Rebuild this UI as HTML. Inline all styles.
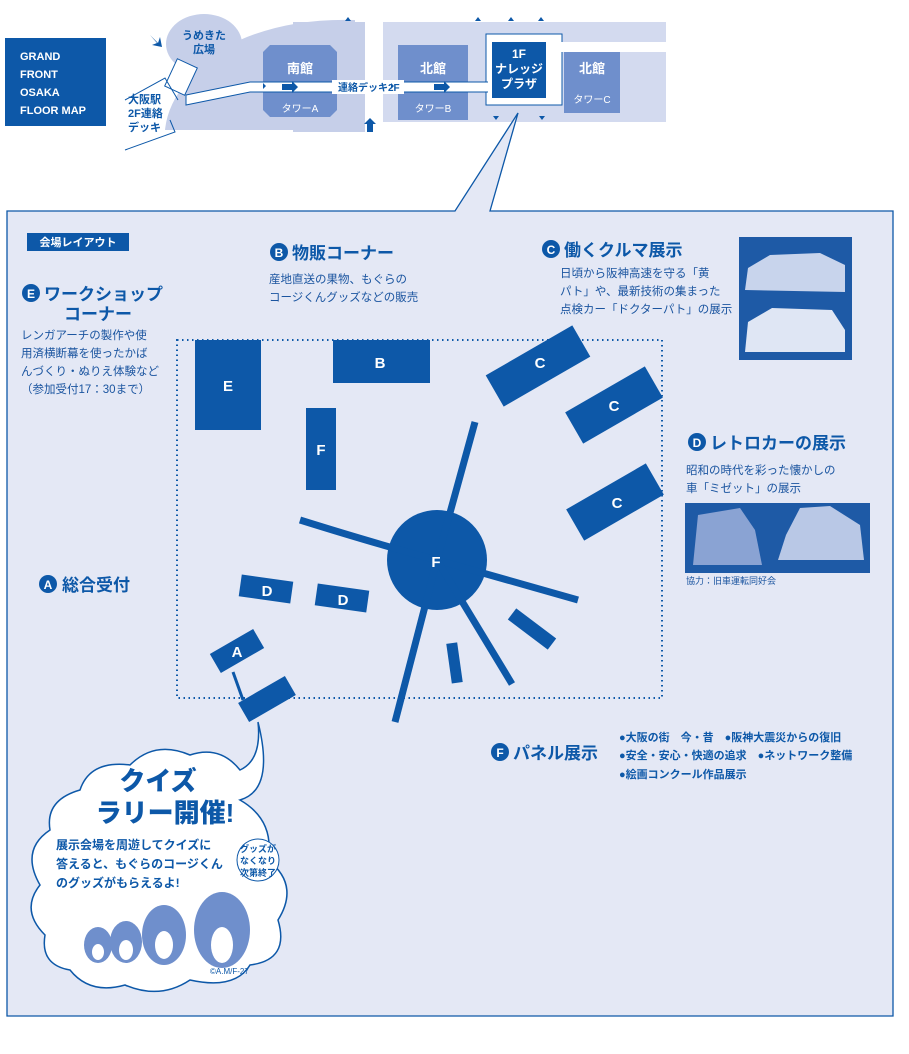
<!DOCTYPE html>
<html><head><meta charset="utf-8"><style>
html,body{margin:0;padding:0;background:#fff}
svg{display:block}
text{font-family:"Liberation Sans","Noto Sans CJK JP",sans-serif}
</style></head><body>
<svg width="909" height="1054" viewBox="0 0 909 1054" xmlns="http://www.w3.org/2000/svg">
<!-- top map -->
<rect x="5" y="38" width="101" height="88" fill="#0d58a8"/>
<g fill="#fff" font-size="11" font-weight="bold">
<text x="20" y="60">GRAND</text><text x="20" y="78">FRONT</text><text x="20" y="96">OSAKA</text><text x="20" y="114">FLOOR MAP</text></g>
<ellipse cx="204" cy="44" rx="38" ry="30" fill="#c6cfe9"/>
<text x="204" y="39" font-size="11" fill="#0d58a8" text-anchor="middle" font-weight="bold">うめきた</text>
<text x="204" y="53" font-size="11" fill="#0d58a8" text-anchor="middle" font-weight="bold">広場</text>
<path d="M165 130 Q170 80 240 40 Q290 18 355 20 L355 110 L360 130 Z" fill="#c6cfe9"/>
<rect x="293" y="22" width="72" height="110" fill="#c6cfe9"/>
<rect x="383" y="22" width="283" height="100" fill="#d3daef"/>
<path d="M270 45 L330 45 L337 52 L337 110 L330 117 L270 117 L263 110 L263 52 Z" fill="#6f8fcc"/>
<rect x="398" y="45" width="70" height="75" fill="#6f8fcc"/>
<rect x="564" y="50" width="56" height="63" fill="#6f8fcc"/>
<rect x="486" y="34" width="76" height="71" fill="#fff" stroke="#0d58a8" stroke-width="1"/>
<path d="M492 42 L546 42 L546 98 L492 98 Z" fill="#0d58a8"/>
<text x="519" y="58" fill="#fff" font-size="12" text-anchor="middle" font-weight="bold">1F</text>
<text x="519" y="73" fill="#fff" font-size="12" text-anchor="middle" font-weight="bold">ナレッジ</text>
<text x="519" y="88" fill="#fff" font-size="12" text-anchor="middle" font-weight="bold">プラザ</text>
<rect x="555" y="42" width="111" height="10" fill="#fff"/>
<path d="M186 95 L250 82 L372 82 L372 92 L250 92 L186 105 Z" fill="#fff" stroke="#0d58a8" stroke-width="1"/>
<rect x="372" y="82" width="116" height="10" fill="#fff"/>
<line x1="250" y1="82" x2="488" y2="82" stroke="#0d58a8"/><line x1="250" y1="92" x2="488" y2="92" stroke="#0d58a8"/>
<rect x="332" y="80" width="72" height="14" fill="#fff"/>
<text x="338" y="91" font-size="10" fill="#0d58a8" font-weight="bold">連絡デッキ2F</text>
<rect x="170" y="62" width="22" height="30" fill="#fff" stroke="#0d58a8" transform="rotate(25 181 77)"/>
<polyline points="125,100 165,78 178,100" fill="none" stroke="#0d58a8"/>
<polyline points="125,150 175,132 170,120" fill="none" stroke="#0d58a8"/>
<text x="128" y="103" font-size="11" fill="#0d58a8" font-weight="bold">大阪駅</text>
<text x="128" y="117" font-size="11" fill="#0d58a8" font-weight="bold">2F連絡</text>
<text x="128" y="131" font-size="11" fill="#0d58a8" font-weight="bold">デッキ</text>
<text x="300" y="73" font-size="13" fill="#fff" text-anchor="middle" font-weight="bold">南館</text>
<text x="300" y="112" font-size="10" fill="#fff" text-anchor="middle">タワーA</text>
<text x="433" y="73" font-size="13" fill="#fff" text-anchor="middle" font-weight="bold">北館</text>
<text x="433" y="112" font-size="10" fill="#fff" text-anchor="middle">タワーB</text>
<text x="592" y="73" font-size="13" fill="#fff" text-anchor="middle" font-weight="bold">北館</text>
<text x="592" y="103" font-size="10" fill="#fff" text-anchor="middle">タワーC</text>
<g fill="#0d58a8">
<path d="M282 84 L292 84 L292 81 L298 87 L292 93 L292 90 L282 90Z"/>
<path d="M434 84 L444 84 L444 81 L450 87 L444 93 L444 90 L434 90Z"/>
<path d="M367 132 L367 124 L364 124 L370 118 L376 124 L373 124 L373 132Z"/>
<path d="M150 35 L158 43 L160 37 L162 47 L152 45 L157 43Z"/>
<path d="M266 86 l-3 -3 v6z M394 86 l-3 -3 v6z M348 17 l-3 4 h6z M478 17 l-3 4 h6z M511 17 l-3 4 h6z M541 17 l-3 4 h6z M496 120 l-3 -4 h6z M542 120 l-3 -4 h6z"/>
</g>
<!-- callout -->
<path d="M7 211 L455 211 L518 113 L490 211 L893 211 L893 1016 L7 1016 Z" fill="#e4e8f5" stroke="#0d58a8" stroke-width="1.3"/>
<rect x="27" y="233" width="102" height="18" fill="#0d58a8"/>
<text x="78" y="246" fill="#fff" font-size="11" text-anchor="middle" font-weight="bold">会場レイアウト</text>
<rect x="177" y="340" width="485" height="358" fill="none" stroke="#0d58a8" stroke-width="2" stroke-dasharray="1.5 3.5"/>
<g fill="#0d58a8">
<rect x="195" y="340" width="66" height="90"/>
<rect x="333" y="340" width="97" height="43"/>
<rect x="306" y="408" width="30" height="82"/>
<rect x="-50" y="-18" width="100" height="36" transform="translate(538 366) rotate(-30)"/>
<rect x="-46" y="-18" width="92" height="36" transform="translate(614 405) rotate(-30)"/>
<rect x="-46" y="-18" width="92" height="36" transform="translate(615 502) rotate(-30)"/>
<rect x="-26" y="-11" width="52" height="22" transform="translate(266 589) rotate(8)"/>
<rect x="-26" y="-11" width="52" height="22" transform="translate(342 598) rotate(8)"/>
<rect x="-25" y="-11" width="50" height="22" transform="translate(237 651) rotate(-30)"/>
<rect x="-27" y="-11" width="54" height="22" transform="translate(267 699) rotate(-30)"/>
<circle cx="437" cy="560" r="50"/>
<rect x="-5" y="-20" width="11" height="40" transform="translate(454 663) rotate(-8)"/>
<rect x="-25" y="-7" width="50" height="14" transform="translate(532 629) rotate(37)"/>
</g>
<g stroke="#0d58a8" stroke-width="7" fill="none">
<line x1="437" y1="560" x2="475" y2="422"/>
<line x1="437" y1="560" x2="578" y2="600"/>
<line x1="437" y1="560" x2="512" y2="684"/>
<line x1="437" y1="560" x2="395" y2="722"/>
<path d="M437 560 Q380 545 300 520"/>
<line x1="233" y1="672" x2="243" y2="700" stroke-width="3"/>
</g>
<g fill="#fff" font-size="15" font-weight="bold" text-anchor="middle">
<text x="228" y="391">E</text><text x="380" y="368">B</text><text x="321" y="455">F</text>
<text x="540" y="368">C</text><text x="614" y="411">C</text><text x="617" y="508">C</text>
<text x="267" y="596">D</text><text x="343" y="605">D</text><text x="237" y="657">A</text>
<text x="436" y="567">F</text></g>
<!-- labels -->
<g fill="#0d58a8">
<circle cx="279" cy="252" r="9"/><circle cx="551" cy="249" r="9"/><circle cx="31" cy="293" r="9"/><circle cx="697" cy="442" r="9"/><circle cx="48" cy="584" r="9"/><circle cx="500" cy="752" r="9"/></g>
<g fill="#fff" font-size="12" font-weight="bold" text-anchor="middle">
<text x="279" y="257">B</text><text x="551" y="254">C</text><text x="31" y="298">E</text><text x="697" y="447">D</text><text x="48" y="589">A</text><text x="500" y="757">F</text></g>
<g fill="#0d58a8" font-weight="bold" font-size="17">
<text x="292" y="259">物販コーナー</text>
<text x="564" y="256">働くクルマ展示</text>
<text x="44" y="300">ワークショップ</text>
<text x="64" y="320">コーナー</text>
<text x="710" y="449">レトロカーの展示</text>
<text x="62" y="591">総合受付</text>
<text x="513" y="759">パネル展示</text>
</g>
<g fill="#1b55a0" font-size="11.5">
<text x="269" y="283">産地直送の果物、もぐらの</text>
<text x="269" y="301">コージくんグッズなどの販売</text>
<text x="560" y="277">日頃から阪神高速を守る「黄</text>
<text x="560" y="295">パト」や、最新技術の集まった</text>
<text x="560" y="313">点検カー「ドクターパト」の展示</text>
<text x="21" y="339">レンガアーチの製作や使</text>
<text x="21" y="357">用済横断幕を使ったかば</text>
<text x="21" y="375">んづくり・ぬりえ体験など</text>
<text x="21" y="393">（参加受付17：30まで）</text>
<text x="686" y="474">昭和の時代を彩った懐かしの</text>
<text x="686" y="492">車「ミゼット」の展示</text>
<text x="686" y="584" font-size="9">協力：旧車運転同好会</text>
</g>
<g fill="#0d58a8" font-size="11" font-weight="bold">
<text x="619" y="741">●大阪の街　今・昔　●阪神大震災からの復旧</text>
<text x="619" y="759">●安全・安心・快適の追求　●ネットワーク整備</text>
<text x="619" y="778">●絵画コンクール作品展示</text>
</g>
<!-- photos -->
<rect x="739" y="237" width="113" height="123" fill="#1e5aa6"/>
<path d="M745 290 L748 268 L770 255 L820 253 L845 265 L845 292 Z" fill="#c8d4ec"/>
<path d="M745 352 L748 322 L772 308 L832 310 L845 330 L845 352 Z" fill="#dfe6f4"/>
<rect x="685" y="503" width="185" height="70" fill="#1e5aa6"/>
<path d="M693 565 L698 515 L740 508 L755 530 L762 565 Z" fill="#8aa3d3"/>
<path d="M778 560 L786 535 L800 508 L830 506 L860 525 L864 560 Z" fill="#b9c8e6"/>
<!-- cloud -->
<path d="M258 722 Q275 790 240 800 Q275 820 268 860 Q300 885 278 920 Q290 960 250 965 Q235 990 190 980 Q160 1000 125 985 Q90 995 70 970 Q40 965 45 935 Q20 910 40 885 Q20 850 50 830 Q45 800 80 790 Q90 760 130 765 Q155 740 190 755 Q220 745 240 770 Q262 760 258 722 Z" fill="#fff" stroke="#0d58a8" stroke-width="1.5"/>
<g fill="#0d58a8" font-weight="900" text-anchor="middle">
<text x="158" y="790" font-size="26">クイズ</text>
<text x="165" y="822" font-size="26">ラリー開催!</text></g>
<g fill="#0d58a8" font-size="12" font-weight="bold">
<text x="56" y="849">展示会場を周遊してクイズに</text>
<text x="56" y="868">答えると、もぐらのコージくん</text>
<text x="56" y="887">のグッズがもらえるよ!</text></g>
<circle cx="258" cy="860" r="21" fill="#fff" stroke="#0d58a8"/>
<g fill="#0d58a8" font-size="9" text-anchor="middle" font-weight="bold">
<text x="258" y="852">グッズが</text><text x="258" y="864">なくなり</text><text x="258" y="876">次第終了</text></g>
<g fill="#6f8fcc">
<ellipse cx="98" cy="945" rx="14" ry="18"/><ellipse cx="126" cy="942" rx="16" ry="21"/>
<ellipse cx="164" cy="935" rx="22" ry="30"/><ellipse cx="222" cy="930" rx="28" ry="38"/></g>
<g fill="#fff"><ellipse cx="98" cy="952" rx="6" ry="8"/><ellipse cx="126" cy="950" rx="7" ry="10"/><ellipse cx="164" cy="945" rx="9" ry="14"/><ellipse cx="222" cy="945" rx="11" ry="18"/></g>
<text x="210" y="974" font-size="8" fill="#0d58a8">©A.M/F-27</text>
</svg>
</body></html>
